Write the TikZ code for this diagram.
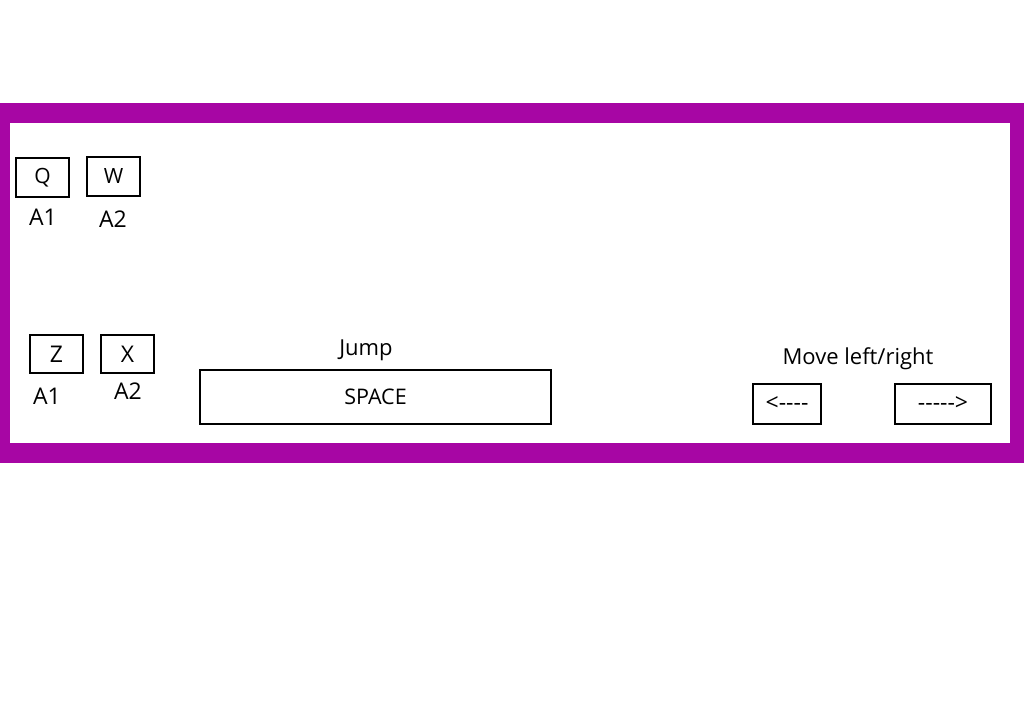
\documentclass[tikz,border=0pt]{standalone}
\usepackage{fontspec}
\setmainfont{Open Sans}
\definecolor{framepurple}{RGB}{167,6,164}

\begin{document}
\begin{tikzpicture}[
    x=1pt, y=-1pt,
    key/.style={draw, line width=2pt, inner sep=0pt, align=center},
    smallkey/.style={key, minimum width=53pt, minimum height=39pt, font=\fontsize{21}{21}\selectfont},
    lowkey/.style={key, minimum width=53pt, minimum height=38pt, font=\fontsize{23}{23}\selectfont},
    arrowkey/.style={key, minimum height=40pt, font=\fontsize{23}{23}\selectfont},
    keylabel/.style={anchor=base, inner sep=0pt, font=\fontsize{23}{23}\selectfont},
    caption/.style={anchor=base, inner sep=0pt, font=\fontsize{22}{22}\selectfont}
]
\useasboundingbox (0,0) rectangle (1024,720);

% Frame
\fill[framepurple] (0,103) rectangle (1024,463);
\fill[white] (10,123) rectangle (1010,443);

% Top row
\node[smallkey] (q) at (42.5,177.5) {Q};
\node[smallkey] (w) at (113.5,176.5) {W};
\node[keylabel] (qlabel) at (43,225) {A1};
\node[keylabel] (wlabel) at (113,227) {A2};

% Bottom row
\node[lowkey] (z) at (56.5,354) {Z};
\node[lowkey] (x) at (127.5,354) {X};
\node[keylabel] (zlabel) at (47,404) {A1};
\node[keylabel] (xlabel) at (128,399) {A2};

% Jump
\node[key, minimum width=351pt, minimum height=54pt, font=\fontsize{21.5}{21.5}\selectfont] (space) at (375.5,397) {SPACE};
\node[caption] (jump) at (366,355) {Jump};

% Move left/right
\node[arrowkey, minimum width=68pt] (left) at (787,404) {<{-}{-}{-}{-}};
\node[arrowkey, minimum width=96pt] (right) at (943,404) {{-}{-}{-}{-}{-}>};
\node[caption] (move) at (858,364) {Move left/right};
\end{tikzpicture}
\end{document}
